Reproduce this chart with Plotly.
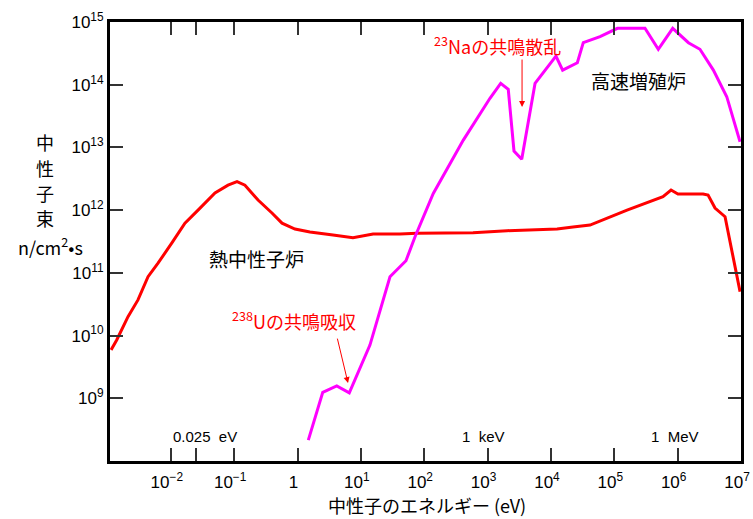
import plotly.graph_objects as go

# Thermal reactor (熱中性子炉) spectrum
thermal_E = [1.14e-3, 1.40e-3, 2.11e-3, 3.03e-3, 4.37e-3, 6.28e-3, 1.04e-2, 1.67e-2,
             2.69e-2, 4.98e-2, 8.0e-2, 0.111, 0.148, 0.238, 0.395, 0.569, 0.912,
             1.31, 1.57, 3.63, 7.5, 15.6, 41.5, 76.9, 589, 2030, 1.25e4, 2.23e4,
             4.14e4, 1.59e5, 3.29e5, 5.87e5, 7.87e5, 1.01e6, 2.52e6, 3.02e6,
             3.89e6, 5.6e6, 9.66e6]
thermal_flux = [5.9e9, 8.5e9, 2.0e10, 3.7e10, 8.7e10, 1.43e11, 3.0e11, 6.2e11,
                1.0e12, 1.88e12, 2.5e12, 2.84e12, 2.5e12, 1.45e12, 9.0e11, 6.2e11,
                5.0e11, 4.65e11, 4.48e11, 4.0e11, 3.63e11, 4.16e11, 4.16e11, 4.3e11,
                4.37e11, 4.7e11, 5.0e11, 5.37e11, 5.78e11, 1.0e12, 1.30e12, 1.64e12,
                2.09e12, 1.81e12, 1.81e12, 1.74e12, 1.08e12, 7.85e11, 5.0e10]

# Fast breeder reactor (高速増殖炉) spectrum
fast_E = [1.48, 2.50, 4.16, 6.56, 13.9, 28.8, 51.5, 71.6, 139, 414, 1090, 1610,
          2120, 2610, 3460, 5610, 1.20e4, 1.53e4, 2.61e4, 3.24e4, 5.96e4, 1.12e5,
          3.05e5, 4.95e5, 8.36e5, 1.48e6, 2.25e6, 3.66e6, 5.96e6, 9.66e6]
fast_flux = [2.15e8, 1.24e9, 1.57e9, 1.22e9, 7.06e9, 8.67e10, 1.56e11, 3.77e11,
             1.85e12, 1.31e13, 6.07e13, 1.05e14, 8.45e13, 8.77e12, 6.46e12, 1.05e14,
             2.87e14, 1.71e14, 2.24e14, 4.68e14, 5.83e14, 7.94e14, 7.94e14, 3.67e14,
             7.94e14, 4.68e14, 3.67e14, 1.71e14, 6.44e13, 1.23e13]

x_tickvals = [0.01, 0.025, 0.1, 1, 10, 100, 1e3, 1e4, 1e5, 1e6, 1e7]
x_ticktext = ["10<sup>−2</sup>", "", "10<sup>−1</sup>", "1", "10<sup>1</sup>",
              "10<sup>2</sup>", "10<sup>3</sup>", "10<sup>4</sup>", "10<sup>5</sup>",
              "10<sup>6</sup>", "10<sup>7</sup>"]
y_tickvals = [1e9, 1e10, 1e11, 1e12, 1e13, 1e14, 1e15]
y_ticktext = ["10<sup>9</sup>", "10<sup>10</sup>", "10<sup>11</sup>", "10<sup>12</sup>",
              "10<sup>13</sup>", "10<sup>14</sup>", "10<sup>15</sup>"]

# y-axis title lines (vertical Japanese text + unit)
y_title_lines = ["中", "性", "子", "束", "n/cm<sup>2</sup>•s"]

CJK = "Noto Sans CJK JP"
LAT = "Liberation Sans"

fig = go.Figure()
fig.add_trace(go.Scatter(x=thermal_E, y=thermal_flux, mode="lines",
                         line=dict(color="#ff0000", width=3), showlegend=False))
fig.add_trace(go.Scatter(x=fast_E, y=fast_flux, mode="lines",
                         line=dict(color="#ff00ff", width=3), showlegend=False))

axis_common = dict(showline=True, linecolor="black", linewidth=3, mirror="ticks",
                   ticks="inside", ticklen=13, tickwidth=2, tickcolor="#333",
                   showgrid=False, zeroline=False, automargin=False,
                   ticklabeloverflow="allow",
                   tickfont=dict(family=LAT, size=17, color="black"))

fig.update_xaxes(type="log", range=[-2.96, 7], tickvals=x_tickvals,
                 ticktext=x_ticktext, ticklabelstandoff=4, ticklabelshift=-4,
                 **axis_common)
fig.update_yaxes(type="log", range=[8, 15], tickvals=y_tickvals,
                 ticktext=y_ticktext, **axis_common)

ann = []
ann.append(dict(x=-0.655, y=11.236, text="熱中性子炉", showarrow=False,
                font=dict(family=CJK, size=19, color="black")))
ann.append(dict(x=5.375, y=14.075, text="高速増殖炉", showarrow=False,
                font=dict(family=CJK, size=19, color="black")))
ann.append(dict(x=3.149, y=14.633, text="<sup>23</sup>Naの共鳴散乱", showarrow=False,
                font=dict(family=CJK, size=18, color="#ff0000")))
ann.append(dict(x=3.544, y=13.644, text="", showarrow=True, ax=0, ay=-49,
                arrowhead=2, arrowsize=1.2, arrowwidth=1, arrowcolor="#ff0000"))
ann.append(dict(x=-0.056, y=10.247, text="<sup>238</sup>Uの共鳴吸収", showarrow=False,
                font=dict(family=CJK, size=18, color="#ff0000")))
ann.append(dict(x=0.797, y=9.242, text="", showarrow=True, ax=-11, ay=-46,
                arrowhead=2, arrowsize=1.2, arrowwidth=1, arrowcolor="#ff0000"))
for lx, t in [(-1.460, "0.025\u00a0\u00a0eV"), (2.928, "1\u00a0\u00a0keV"),
              (5.959, "1\u00a0\u00a0MeV")]:
    ann.append(dict(x=lx, y=8.397, text=t, showarrow=False,
                    font=dict(family=LAT, size=15, color="black")))
for line, (px, py) in zip(y_title_lines, [(45, 142), (45, 168), (45, 193), (45, 218), (50, 246)]):
    ann.append(dict(xref="paper", yref="paper", x=(px - 110) / 631, y=(461 - py) / 439,
                    text=line, showarrow=False, xanchor="center", yanchor="middle",
                    font=dict(family=CJK, size=18, color="black")))
ann.append(dict(xref="paper", yref="paper", x=(427 - 110) / 631, y=(461 - 505) / 439,
                text="中性子のエネルギー (eV)", showarrow=False,
                xanchor="center", yanchor="middle",
                font=dict(family=CJK, size=18, color="black")))

fig.update_layout(width=753, height=519, margin=dict(l=110, r=12, t=22, b=58),
                  plot_bgcolor="white", paper_bgcolor="white", annotations=ann)

fig.write_html("out.html", config={"displayModeBar": False},
               post_script="document.body.style.margin='0';")
